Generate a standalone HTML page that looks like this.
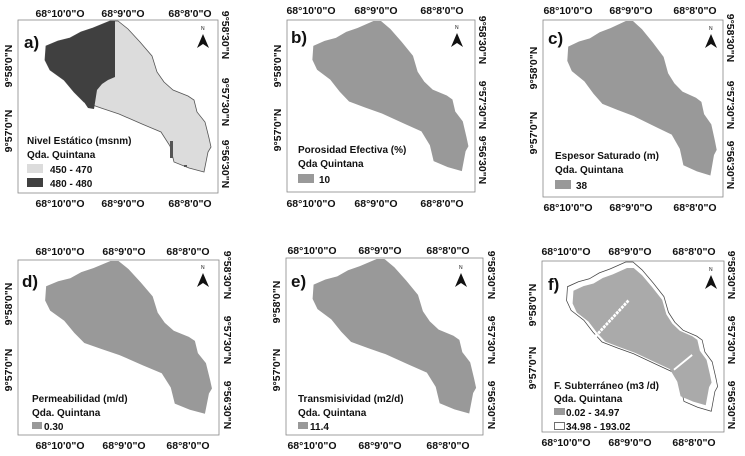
<!DOCTYPE html>
<html><head><meta charset="utf-8"><style>
body{margin:0;background:#fff}
svg{display:block}
text{font-family:"Liberation Sans",Arial,sans-serif;font-weight:bold;fill:#111}
.t{font-size:10.5px}
.l{font-size:10px}
</style></head><body>
<svg width="745" height="456" viewBox="0 0 745 456" xmlns="http://www.w3.org/2000/svg">
<defs>
<polygon id="shp" points="92,1 100,1 110,9 122,22 134,36 139,52 146,62 155,70 170,76 176,80 179,92 187,102 191,118 193,127 190,132 186,152 171,148 156,142 152,126 143,112 124,104 101,94 83,88 66,82 56,72 46,60 32,50 27,40 28,26 40,21 52,18 63,12 75,8"/>
<g id="north"><polygon points="0,0 6,14 0,10 -6,14" fill="#111"/><text x="-2" y="-4" style="font-size:5px;font-weight:normal">N</text></g>
</defs>

<!-- a -->
<rect x="18" y="20" width="200" height="173" fill="#fff" stroke="#888" stroke-width="0.8"/>
<svg x="18" y="20" width="200" height="173" viewBox="0 0 200 173" preserveAspectRatio="none">
<use href="#shp" fill="#dcdcdc" stroke="#555" stroke-width="0.8"/>
<polygon points="75,8 92,1 97,1 97,57 90,60 84,64 79,70 76,89 70,88 66,82 56,72 46,60 32,50 27,40 28,26 40,21 52,18 63,12" fill="#404040"/>
<rect x="152" y="121" width="3" height="17" fill="#555"/><rect x="166" y="145" width="3" height="2" fill="#555"/>
</svg>
<!-- b -->
<rect x="287" y="20" width="188" height="172" fill="#fff" stroke="#888" stroke-width="0.8"/>
<svg x="287" y="20" width="188" height="172" viewBox="0 0 200 173" preserveAspectRatio="none"><use href="#shp" fill="#999"/></svg>
<!-- c -->
<rect x="543" y="20" width="180" height="177" fill="#fff" stroke="#888" stroke-width="0.8"/>
<svg x="543" y="20" width="180" height="177" viewBox="0 0 200 173" preserveAspectRatio="none"><use href="#shp" fill="#999"/></svg>
<!-- d -->
<rect x="18" y="260" width="201" height="175" fill="#fff" stroke="#888" stroke-width="0.8"/>
<svg x="18" y="260" width="201" height="175" viewBox="0 0 200 173" preserveAspectRatio="none"><use href="#shp" fill="#999"/></svg>
<!-- e -->
<rect x="286" y="258" width="197" height="177" fill="#fff" stroke="#888" stroke-width="0.8"/>
<svg x="286" y="258" width="197" height="177" viewBox="0 0 200 173" preserveAspectRatio="none"><use href="#shp" fill="#999"/></svg>
<!-- f -->
<rect x="542" y="261" width="182" height="171" fill="#fff" stroke="#888" stroke-width="0.8"/>
<svg x="542" y="261" width="182" height="171" viewBox="0 0 200 173" preserveAspectRatio="none">
<use href="#shp" fill="#fff" stroke="#444" stroke-width="0.8"/>
<g transform="translate(110,77) scale(0.92) translate(-110,-77)"><use href="#shp" fill="#aaa"/></g>
<line x1="95" y1="40" x2="55" y2="80" stroke="#fff" stroke-width="3" stroke-dasharray="3,1"/>
<line x1="145" y1="110" x2="165" y2="95" stroke="#fff" stroke-width="2"/>
</svg>

<use href="#north" x="203" y="34"/>
<use href="#north" x="457" y="33"/>
<use href="#north" x="711" y="34"/>
<use href="#north" x="203" y="273"/>
<use href="#north" x="461" y="273"/>
<use href="#north" x="711" y="275"/>

<g style="font-size:17px">
<text x="24" y="48">a)</text><text x="291" y="43">b)</text><text x="548" y="44">c)</text>
<text x="22" y="287">d)</text><text x="291" y="287">e)</text><text x="548" y="290">f)</text>
</g>

<g class="t" text-anchor="middle">
<text x="60" y="17">68°10'0"O</text><text x="123" y="17">68°9'0"O</text><text x="190" y="17">68°8'0"O</text>
<text x="60" y="207">68°10'0"O</text><text x="123" y="207">68°9'0"O</text><text x="190" y="207">68°8'0"O</text>
<text x="311" y="14">68°10'0"O</text><text x="376" y="14">68°9'0"O</text><text x="442" y="14">68°8'0"O</text>
<text x="311" y="207">68°10'0"O</text><text x="376" y="207">68°9'0"O</text><text x="442" y="207">68°8'0"O</text>
<text x="568" y="14">68°10'0"O</text><text x="631" y="14">68°9'0"O</text><text x="695" y="14">68°8'0"O</text>
<text x="568" y="211">68°10'0"O</text><text x="631" y="211">68°9'0"O</text><text x="695" y="211">68°8'0"O</text>
<text x="60" y="255">68°10'0"O</text><text x="124" y="255">68°9'0"O</text><text x="188" y="255">68°8'0"O</text>
<text x="60" y="449">68°10'0"O</text><text x="124" y="449">68°9'0"O</text><text x="188" y="449">68°8'0"O</text>
<text x="312" y="254">68°10'0"O</text><text x="380" y="254">68°9'0"O</text><text x="448" y="254">68°8'0"O</text>
<text x="312" y="449">68°10'0"O</text><text x="380" y="449">68°9'0"O</text><text x="448" y="449">68°8'0"O</text>
<text x="566" y="255">68°10'0"O</text><text x="630" y="255">68°9'0"O</text><text x="694" y="255">68°8'0"O</text>
<text x="566" y="446">68°10'0"O</text><text x="630" y="446">68°9'0"O</text><text x="694" y="446">68°8'0"O</text>
</g>

<g class="t" text-anchor="middle">
<text transform="translate(12,66) rotate(-90)">9°58'0"N</text>
<text transform="translate(12,131) rotate(-90)">9°57'0"N</text>
<text transform="translate(222,35) rotate(90)">9°58'30"N</text>
<text transform="translate(222,102) rotate(90)">9°57'30"N</text>
<text transform="translate(222,164) rotate(90)">9°56'30"N</text>
<text transform="translate(281,66) rotate(-90)">9°58'0"N</text>
<text transform="translate(281,130) rotate(-90)">9°57'0"N</text>
<text transform="translate(479,40) rotate(90)">9°58'30"N</text>
<text transform="translate(479,105) rotate(90)">9°57'30"N</text>
<text transform="translate(479,160) rotate(90)">9°56'30"N</text>
<text transform="translate(537,68) rotate(-90)">9°58'0"N</text>
<text transform="translate(537,133) rotate(-90)">9°57'0"N</text>
<text transform="translate(727,38) rotate(90)">9°58'30"N</text>
<text transform="translate(727,105) rotate(90)">9°57'30"N</text>
<text transform="translate(727,165) rotate(90)">9°56'30"N</text>
<text transform="translate(12,304) rotate(-90)">9°58'0"N</text>
<text transform="translate(12,370) rotate(-90)">9°57'0"N</text>
<text transform="translate(224,275) rotate(90)">9°58'30"N</text>
<text transform="translate(224,340) rotate(90)">9°57'30"N</text>
<text transform="translate(224,405) rotate(90)">9°56'30"N</text>
<text transform="translate(280,302) rotate(-90)">9°58'0"N</text>
<text transform="translate(280,370) rotate(-90)">9°57'0"N</text>
<text transform="translate(488,275) rotate(90)">9°58'30"N</text>
<text transform="translate(488,340) rotate(90)">9°57'30"N</text>
<text transform="translate(488,405) rotate(90)">9°56'30"N</text>
<text transform="translate(536,305) rotate(-90)">9°58'0"N</text>
<text transform="translate(536,368) rotate(-90)">9°57'0"N</text>
<text transform="translate(728,275) rotate(90)">9°58'30"N</text>
<text transform="translate(728,340) rotate(90)">9°57'30"N</text>
<text transform="translate(728,405) rotate(90)">9°56'30"N</text>
</g>

<g class="l">
<text x="27" y="144">Nivel Estático (msnm)</text>
<text x="27" y="158">Qda. Quintana</text>
<rect x="27" y="164" width="16" height="9" fill="#dcdcdc"/><text x="50" y="173">450 - 470</text>
<rect x="27" y="178" width="16" height="9" fill="#404040"/><text x="50" y="187">480 - 480</text>

<text x="298" y="153">Porosidad Efectiva (%)</text>
<text x="298" y="167">Qda Quintana</text>
<rect x="298" y="174" width="16" height="9" fill="#999"/><text x="319" y="183">10</text>

<text x="555" y="159">Espesor Saturado (m)</text>
<text x="555" y="173">Qda. Quintana</text>
<rect x="555" y="180" width="16" height="9" fill="#999"/><text x="576" y="189">38</text>

<text x="32" y="402">Permeabilidad (m/d)</text>
<text x="32" y="416">Qda. Quintana</text>
<rect x="32" y="422" width="10" height="7" fill="#999"/><text x="44" y="430">0.30</text>

<text x="298" y="402">Transmisividad (m2/d)</text>
<text x="298" y="416">Qda. Quintana</text>
<rect x="298" y="422" width="10" height="7" fill="#999"/><text x="310" y="430">11.4</text>

<text x="554" y="389">F. Subterráneo (m3 /d)</text>
<text x="554" y="402">Qda. Quintana</text>
<rect x="554" y="408" width="11" height="7" fill="#999"/><text x="566" y="416">0.02 - 34.97</text>
<rect x="554.5" y="422.5" width="10" height="7" fill="#fff" stroke="#333" stroke-width="0.7"/><text x="566" y="430">34.98 - 193.02</text>
</g>
</svg>
</body></html>
